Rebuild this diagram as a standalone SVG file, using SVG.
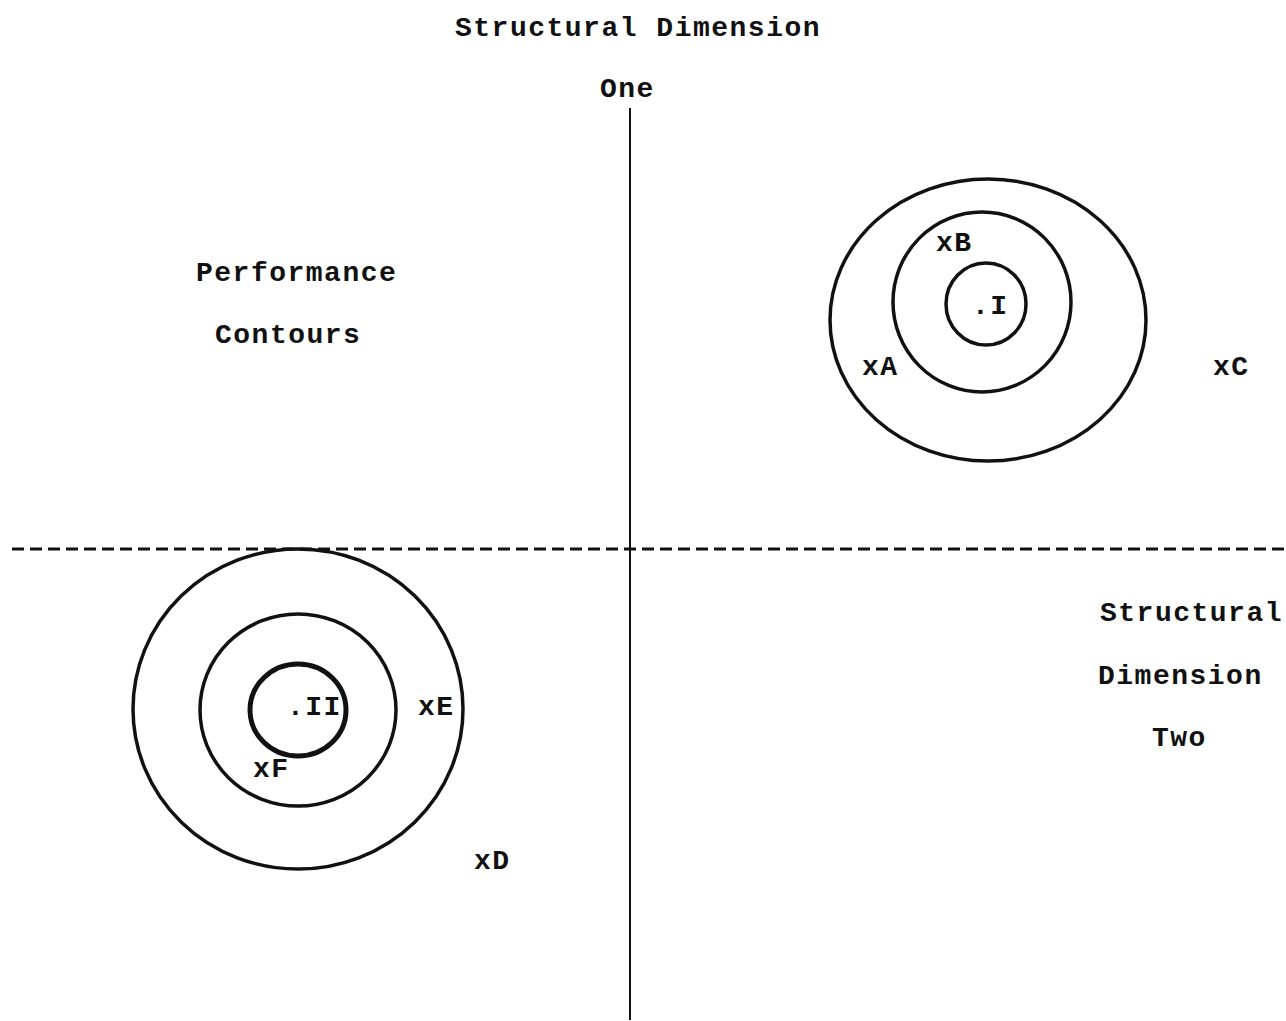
<svg xmlns="http://www.w3.org/2000/svg" width="1286" height="1021" viewBox="0 0 1286 1021">
<style>
  text { font-family: "Liberation Mono", "Courier New", monospace; font-weight: bold; font-size: 28px; letter-spacing: 1.5px; fill: #111; }
  .c { fill: none; stroke: #111; stroke-width: 3.5; }
  .ci { fill: none; stroke: #111; stroke-width: 5; }
  .ax { stroke: #111; stroke-width: 2; fill: none; }
  .dash { stroke: #111; stroke-width: 3; stroke-dasharray: 12 6; fill: none; }
</style>
<rect width="1286" height="1021" fill="#fff"/>
<g id="axes">
  <line class="ax" x1="630" y1="108" x2="630" y2="1020"/>
  <line class="dash" x1="12" y1="549" x2="1284" y2="549"/>
</g>
<g id="contours-I">
  <ellipse class="c" cx="988" cy="320" rx="158" ry="141"/>
  <ellipse class="c" cx="982" cy="302" rx="89" ry="90"/>
  <ellipse class="c" cx="986" cy="304" rx="40" ry="41"/>
</g>
<g id="contours-II">
  <ellipse class="c" cx="298" cy="709" rx="165" ry="160"/>
  <ellipse class="c" cx="298" cy="710" rx="98" ry="96"/>
  <ellipse class="ci" cx="298" cy="710" rx="48" ry="46"/>
</g>
<g id="labels">
  <text x="455" y="36">Structural Dimension</text>
  <text x="600" y="97">One</text>
  <text x="196" y="281">Performance</text>
  <text x="215" y="343">Contours</text>
  <text x="1100" y="621">Structural</text>
  <text x="1098" y="684">Dimension</text>
  <text x="1152" y="746">Two</text>
</g>
<g id="points">
  <text x="936" y="251">xB</text>
  <text x="972" y="314">.I</text>
  <text x="862" y="375">xA</text>
  <text x="1213" y="375">xC</text>
  <text x="287" y="715">.II</text>
  <text x="418" y="715">xE</text>
  <text x="253" y="777">xF</text>
  <text x="474" y="869">xD</text>
</g>
</svg>
